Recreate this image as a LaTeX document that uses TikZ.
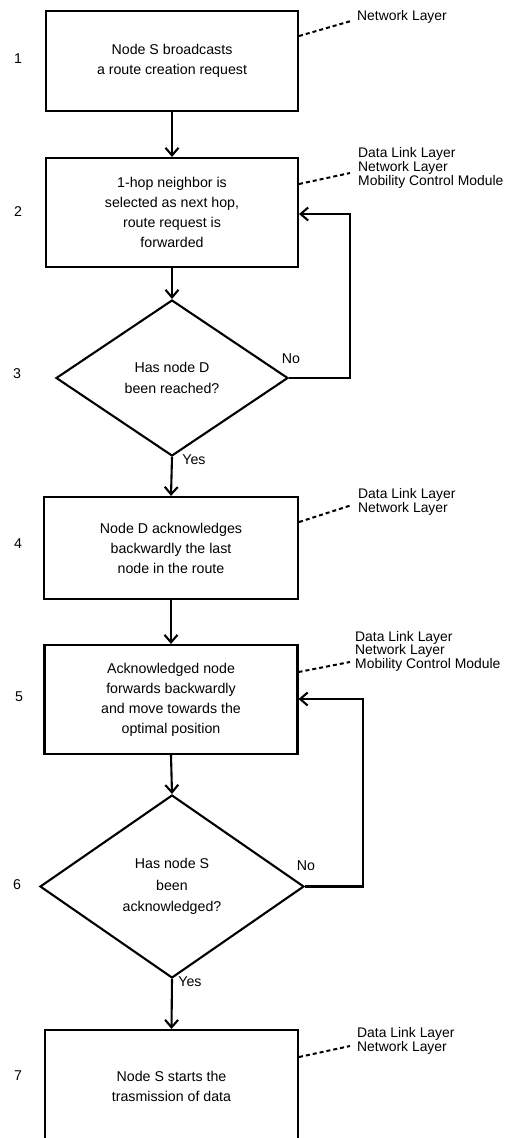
\documentclass[tikz,border=0pt]{standalone}
\usepackage{fontspec}
\setmainfont{Liberation Sans}
\usetikzlibrary{shapes.geometric,arrows.meta}
\begin{document}
\begin{tikzpicture}[x=1pt,y=-1pt,
  every node/.style={font=\fontsize{14.2}{20}\selectfont, inner sep=0pt},
  stepbox/.style={draw, line width=2.1pt, align=center, minimum width=252pt},
  decision/.style={draw, diamond, line width=2.1pt, align=center, inner sep=0pt, font=\fontsize{14.2}{21.5}\selectfont},
  flow/.style={-{Straight Barb[length=7.5pt,width=13pt]}, line width=2.1pt},
  layerline/.style={line width=2pt, dash pattern=on 4pt off 3pt},
  layer/.style={anchor=west, align=left, font=\fontsize{13.9}{13.6}\selectfont},
  stepnum/.style={font=\fontsize{14.2}{14}\selectfont},
  answer/.style={font=\fontsize{14.2}{14}\selectfont}]
\useasboundingbox (0,0) rectangle (507,1138);

% boxes
\node[stepbox, minimum height=100pt] (b1) at (172,61) {Node S broadcasts\\a route creation request};
\node[stepbox, minimum height=109pt] (b2) at (172,212.5) {1-hop neighbor is\\selected as next hop,\\route request is\\forwarded};
\node[decision, minimum width=232pt, minimum height=156pt] (d3) at (172,378) {Has node D\\been reached?};
\node[stepbox, minimum width=254pt, minimum height=102pt] (b4) at (171,548) {Node D acknowledges\\backwardly the last\\node in the route};
\node[stepbox, minimum width=253pt, minimum height=109pt] (b5) at (171,699.5) {Acknowledged node\\forwards backwardly\\and move towards the\\optimal position};
\node[decision, minimum width=264pt, minimum height=183pt] (d6) at (172,886.5) {Has node S\\been\\acknowledged?};
\node[stepbox, minimum width=253pt, minimum height=112pt] (b7) at (171.5,1086) {Node S starts the\\trasmission of data};

% step numbers
\node[stepnum] (n1) at (18,59) {1};
\node[stepnum] (n2) at (18,212) {2};
\node[stepnum] (n3) at (17,374) {3};
\node[stepnum] (n4) at (18,544) {4};
\node[stepnum] (n5) at (19,697) {5};
\node[stepnum] (n6) at (17,885) {6};
\node[stepnum] (n7) at (18,1076) {7};

% flow arrows
\draw[flow] (b1.south) -- (b2.north);
\draw[flow] (b2.south) -- (d3.north);
\draw[flow] (d3.south) -- (b4.north);
\draw[flow] (b4.south) -- (b5.north);
\draw[flow] (b5.south) -- (d6.north);
\draw[flow] (d6.south) -- (b7.north);

% loops
\coordinate (l1) at (350,214);
\draw[flow] (d3.east) -| (l1) -- (b2.east |- l1);
\coordinate (l2) at (363,699);
\draw[flow] (d6.east) -| (l2) -- (b5.east |- l2);

% answers
\node[answer] (no1) at (291,359) {No};
\node[answer] (yes1) at (194,460) {Yes};
\node[answer] (no2) at (306,866) {No};
\node[answer] (yes2) at (190,982) {Yes};

% layer labels
\node[layer] (la1) at (357,17) {Network Layer};
\node[layer] (la2) at (358,168) {Data Link Layer\\Network Layer\\Mobility Control Module};
\node[layer] (la4) at (358,502) {Data Link Layer\\Network Layer};
\node[layer] (la5) at (355,651) {Data Link Layer\\Network Layer\\Mobility Control Module};
\node[layer] (la7) at (357,1041) {Data Link Layer\\Network Layer};

\coordinate (e1) at (351,21);
\coordinate (e2) at (350,173);
\coordinate (e4) at (352,505);
\coordinate (e5) at (350,662);
\coordinate (e7) at (350,1046);
\draw[layerline] (b1.east |- 0,36) -- (e1);
\draw[layerline] (b2.east |- 0,184) -- (e2);
\draw[layerline] (b4.east |- 0,522) -- (e4);
\draw[layerline] (b5.east |- 0,672) -- (e5);
\draw[layerline] (b7.east |- 0,1057) -- (e7);
\end{tikzpicture}
\end{document}
